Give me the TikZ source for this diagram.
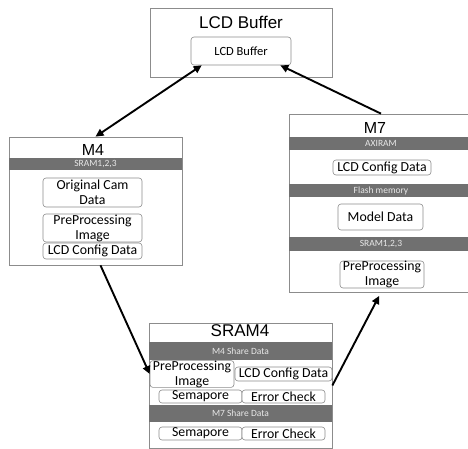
\documentclass[tikz,border=0pt]{standalone}
\usepackage{fontspec}
\setmainfont{Carlito}
\newfontfamily\headfont{Liberation Sans}
\usetikzlibrary{arrows.meta,calc}
\definecolor{bargray}{HTML}{707070}
\definecolor{framegray}{HTML}{8C8C8C}
\definecolor{bartext}{HTML}{E8E8E8}
\begin{document}
\begin{tikzpicture}[x=1pt,y=-1pt,
  frame/.style={draw=framegray, line width=0.7pt, inner sep=0pt, fill=white},
  ttl/.style={font=\headfont\fontsize{17}{17}\selectfont, inner sep=0pt},
  bar/.style={fill=bargray, text=bartext, font=\fontsize{9.5}{10}\selectfont, inner sep=0pt},
  item/.style={draw=framegray, rounded corners=3pt, line width=0.6pt, fill=white,
    inner sep=0pt, align=center, font=\fontsize{13.8}{15}\selectfont},
  link/.style={line width=1.9pt, -{Triangle[length=8pt,width=7.5pt]}},
  dlink/.style={line width=1.9pt, {Triangle[length=8pt,width=7.5pt]}-{Triangle[length=8pt,width=7.5pt]}}]
\useasboundingbox (0,0) rectangle (468,449);
\clip (0,0) rectangle (468,449);

% LCD buffer block
\node[frame, minimum width=182, minimum height=69] (lcd) at (241,42.5) {};
\node[ttl] (lcdt) at (241,22) {LCD Buffer};
\node[item, minimum width=100, minimum height=28, font=\fontsize{12.5}{14}\selectfont] (lcdin) at (241,51) {LCD Buffer};

% M4 core
\node[frame, minimum width=173, minimum height=128] (m4) at (95.5,201) {};
\node[ttl, font=\headfont\fontsize{16}{16}\selectfont] (m4t) at (93,150) {M4};
\node[bar, minimum width=173, minimum height=12] (m4bar) at (95.5,164) {SRAM1,2,3};
\node[item, minimum width=99, minimum height=29] (m4cam) at (92.5,192.5) {Original Cam\\Data};
\node[item, minimum width=99, minimum height=28] (m4pre) at (92.5,228) {PreProcessing\\Image};
\node[item, minimum width=99, minimum height=16] (m4cfg) at (92.5,251) {LCD Config Data};

% M7 core
\node[frame, minimum width=184, minimum height=178] (m7) at (381,203) {};
\node[ttl, font=\headfont\fontsize{16}{16}\selectfont] (m7t) at (375,128) {M7};
\node[bar, minimum width=184, minimum height=13] (m7axi) at (381,143.5) {AXIRAM};
\node[item, minimum width=98, minimum height=15] (m7cfg) at (382,167.5) {LCD Config Data};
\node[bar, minimum width=184, minimum height=13] (m7fl) at (381,190.5) {Flash memory};
\node[item, minimum width=85, minimum height=26] (m7mod) at (380.5,217) {Model Data};
\node[bar, minimum width=184, minimum height=14] (m7sr) at (381,244) {SRAM1,2,3};
\node[item, minimum width=84, minimum height=27] (m7pre) at (382,274.5) {PreProcessing\\Image};

% SRAM4 shared memory
\node[frame, minimum width=183, minimum height=125] (s4) at (240.5,385.5) {};
\node[ttl] (s4t) at (240,331) {SRAM4};
\node[bar, minimum width=183, minimum height=18] (s4m4) at (240.5,351) {M4 Share Data};
\node[item, minimum width=84, minimum height=26] (s4pre) at (192,374) {PreProcessing\\Image};
\node[item, minimum width=97, minimum height=14] (s4cfg) at (283.5,374) {LCD Config Data};
\node[item, minimum width=83, minimum height=13] (s4sem1) at (200.5,396.5) {Semapore};
\node[item, minimum width=83, minimum height=13] (s4err1) at (283.5,396.5) {Error Check};
\node[bar, minimum width=183, minimum height=17] (s4m7) at (240.5,413.5) {M7 Share Data};
\node[item, minimum width=83, minimum height=13] (s4sem2) at (200.5,433.5) {Semapore};
\node[item, minimum width=83, minimum height=13] (s4err2) at (283.5,433.5) {Error Check};

% data paths
\draw[dlink] (m4.north) -- (lcdin.200);
\draw[link] (m7.north) -- (lcdin.-20);
\draw[link] ($(m4.south)+(5,0)$) -- (s4pre.west);
\draw[link, shorten >=4pt] (s4.east) -- (m7.south);
\end{tikzpicture}
\end{document}
